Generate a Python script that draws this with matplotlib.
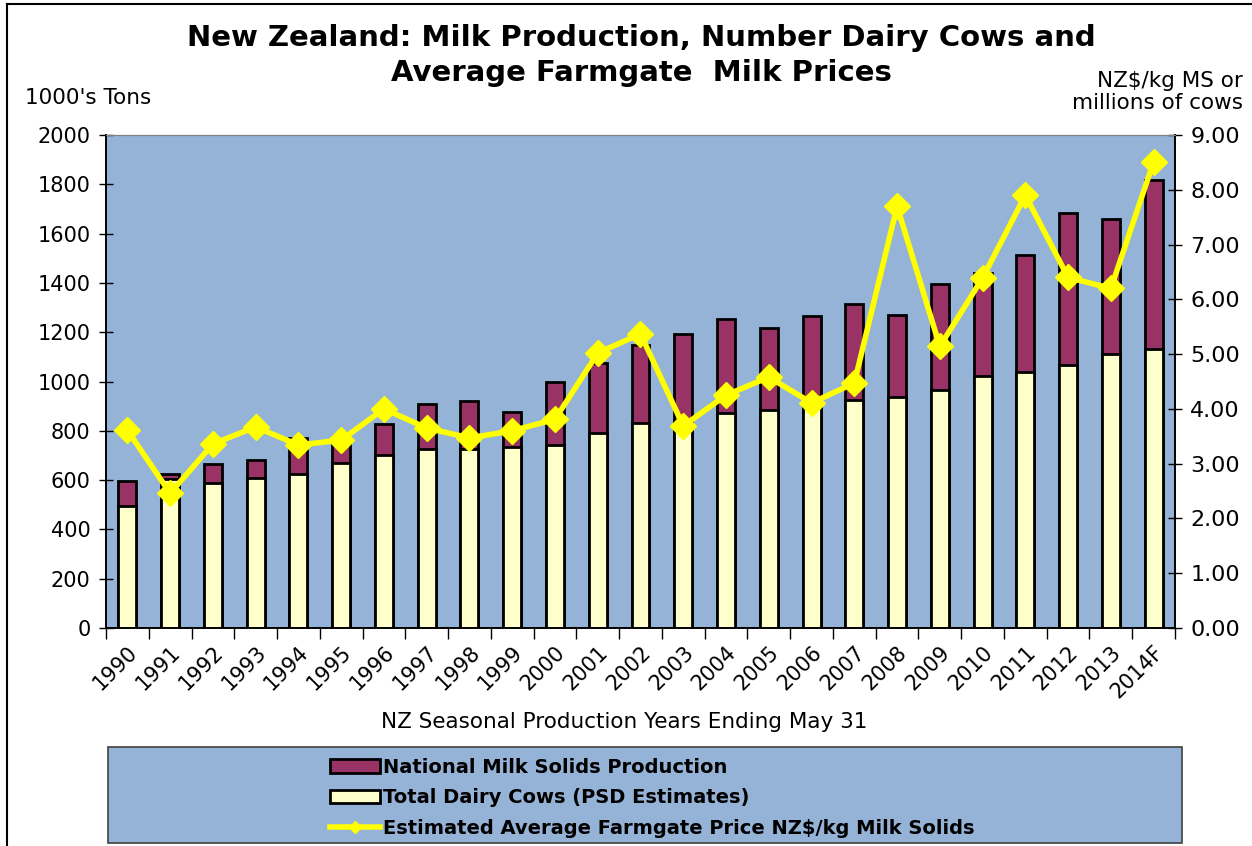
import numpy as np
import matplotlib
matplotlib.use('Agg')
import matplotlib.pyplot as plt
from matplotlib.patches import Rectangle, Patch
from matplotlib.lines import Line2D

# data
years = ['1990', '1991', '1992', '1993', '1994', '1995', '1996', '1997', '1998', '1999',
         '2000', '2001', '2002', '2003', '2004', '2005', '2006', '2007', '2008', '2009',
         '2010', '2011', '2012', '2013', '2014F']
milk_solids = [596, 625, 665, 681, 771, 750, 827, 908, 921, 876,
               998, 1075, 1148, 1193, 1253, 1217, 1266, 1314, 1268, 1394,
               1440, 1513, 1684, 1659, 1817]
cows = [2.23, 2.72, 2.65, 2.74, 2.81, 3.01, 3.16, 3.27, 3.27, 3.30,
        3.34, 3.56, 3.74, 3.80, 3.92, 3.98, 4.10, 4.16, 4.21, 4.34,
        4.60, 4.67, 4.81, 5.00, 5.09]
price = [3.61, 2.46, 3.36, 3.67, 3.34, 3.43, 4.00, 3.65, 3.47, 3.60,
         3.81, 5.02, 5.37, 3.69, 4.25, 4.58, 4.11, 4.47, 7.70, 5.14,
         6.39, 7.90, 6.40, 6.20, 8.51]

bg = '#95B3D7'
maroon = '#993366'
cream = '#FFFFCC'
yellow = '#FFFF00'

fig = plt.figure(figsize=(12.52, 8.46), dpi=100)
ax = fig.add_axes([106/1252, 1-628/846, (1175-106)/1252, (628-135)/846])
ax.set_facecolor(bg)
x = np.arange(len(years))
w = 0.42

ax.bar(x, milk_solids, width=w, color=maroon, edgecolor='black', linewidth=2)
ax.set_ylim(0, 2000)
ax.set_xlim(-0.5, len(years)-0.5)
ax.set_yticks(range(0, 2001, 200))

ax2 = ax.twinx()
ax2.bar(x, cows, width=w, color=cream, edgecolor='black', linewidth=2)
ax2.plot(x, price, color=yellow, linewidth=4, marker='D', markersize=13,
         markeredgecolor=yellow)
ax2.set_ylim(0, 9)
ax2.set_yticks(np.arange(0, 9.01, 1))
ax2.set_yticklabels(['%.2f' % v for v in np.arange(0, 9.01, 1)])

ax.set_xticks(x)
ax.set_xticklabels(years, rotation=45, ha='right', rotation_mode='anchor', fontsize=15)
ax.set_xticks(np.arange(-0.5, len(years), 1), minor=True)
ax.tick_params(axis='x', which='major', length=0, pad=10)
ax.tick_params(axis='x', which='minor', length=8, direction='out', width=1)
ax.tick_params(axis='y', labelsize=15, length=10, direction='inout', width=1, pad=6)
ax2.tick_params(axis='y', labelsize=16, length=10, direction='inout', width=1, pad=6)

for a in (ax, ax2):
    a.spines['top'].set_color('#808080')
    a.spines['left'].set_linewidth(1.2)
    a.spines['right'].set_linewidth(1.2)
    a.spines['bottom'].set_linewidth(1.2)

fig.text(624/1252, 1-722/846, 'NZ Seasonal Production Years Ending May 31',
         ha='center', va='center', fontsize=15.5)

fig.text(0.512, 1-38/846, 'New Zealand: Milk Production, Number Dairy Cows and',
         ha='center', va='center', fontsize=21, fontweight='bold')
fig.text(0.512, 1-73/846, 'Average Farmgate  Milk Prices',
         ha='center', va='center', fontsize=21, fontweight='bold')
fig.text(25/1252, 1-98/846, "1000's Tons", ha='left', va='center', fontsize=15.5)
fig.text(1243/1252, 1-92/846, 'NZ$/kg MS or\nmillions of cows', ha='right', va='center',
         fontsize=15.5, linespacing=1.15, multialignment='right')

# figure border (left and top)
fig.add_artist(Line2D([7/1252, 7/1252], [0, 1-4/846], color='black', linewidth=1.5,
                      transform=fig.transFigure))
fig.add_artist(Line2D([7/1252, 1], [1-4/846, 1-4/846], color='black', linewidth=1.5,
                      transform=fig.transFigure))

# legend box
fig.add_artist(Rectangle((108/1252, 1-843/846), (1182-108)/1252, (843-747)/846,
                         transform=fig.transFigure, facecolor=bg, edgecolor='#404040',
                         linewidth=1.2))
handles = [Patch(facecolor=maroon, edgecolor='black', linewidth=2),
           Patch(facecolor=cream, edgecolor='black', linewidth=2),
           Line2D([], [], color=yellow, linewidth=4, marker='D', markersize=6)]
labels = ['National Milk Solids Production', 'Total Dairy Cows (PSD Estimates)',
          'Estimated Average Farmgate Price NZ$/kg Milk Solids']
fig.legend(handles, labels, loc='upper left', bbox_to_anchor=(316/1252, 1-744/846),
           frameon=False, prop={'weight': 'bold', 'size': 14}, handlelength=2.6,
           handletextpad=0.15, labelspacing=0.6, borderpad=0.2)

fig.savefig('out.png', dpi=100)
